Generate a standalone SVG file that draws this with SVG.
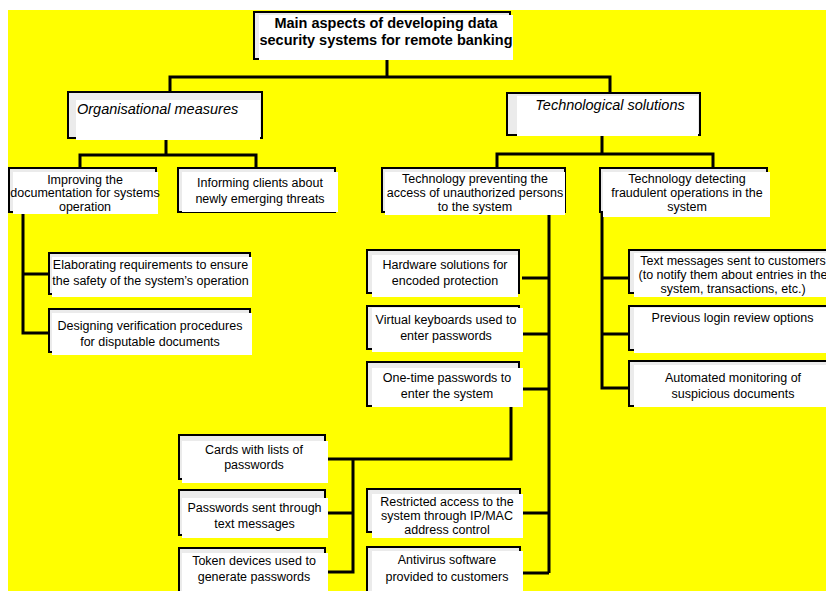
<svg xmlns="http://www.w3.org/2000/svg" width="826" height="591" viewBox="0 0 826 591">
<style>
.o{fill:#ebebeb;stroke:#000;stroke-width:2}
.w{fill:#fff}
.t{font-family:"Liberation Sans",Arial,sans-serif;font-size:12.5px;fill:#000;text-anchor:middle}
.b{font-family:"Liberation Sans",Arial,sans-serif;font-size:14.5px;font-weight:bold;fill:#000;text-anchor:middle}
.i{font-family:"Liberation Sans",Arial,sans-serif;font-size:14.5px;font-style:italic;fill:#000}
.c{fill:none;stroke:#000;stroke-width:3}
</style>
<rect x="0" y="0" width="826" height="591" fill="#fff"/>
<rect x="8" y="10" width="818" height="581" fill="#ffff00"/>
<g id="connectors" class="c">
<path d="M387,59V77M170,92V77H610V93"/>
<path d="M166,138V155M80,168V155H256V168"/>
<path d="M602,135V154M497,168V154H713V168"/>
<path d="M23,212V333H49M23,274H49"/>
<path d="M549,212V573M522,278H549M522,334H549M522,389H549M522,513H549M522,573H549"/>
<path d="M511,407V459H328M353,459V572H328M328,513H353"/>
<path d="M602,212V388H629M602,278H629M602,334H629"/>
</g>
<g id="n-main"><rect class="o" x="254" y="12" width="256" height="47"/><rect class="w" x="259" y="15" width="254" height="45"/>
<text class="b" x="386" y="28">Main aspects of developing data</text><text class="b" x="386" y="44.5">security systems for remote banking</text></g>
<g id="n-org"><rect class="o" x="68" y="92" width="194" height="46"/><rect class="w" x="76" y="100" width="184" height="40"/>
<text class="i" x="77" y="114">Organisational measures</text></g>
<g id="n-tech"><rect class="o" x="507" y="93" width="193" height="42"/><rect class="w" x="517" y="96" width="181" height="40"/>
<text class="i" x="610" y="110" text-anchor="middle">Technological solutions</text></g>
<g id="n-improving"><rect class="o" x="9" y="168" width="147" height="44"/><rect class="w" x="13" y="172" width="145" height="42"/>
<text class="t" x="85" y="183.5">Improving the</text><text class="t" x="85" y="196.5">documentation for systems</text><text class="t" x="85" y="210.5">operation</text></g>
<g id="n-informing"><rect class="o" x="178" y="168" width="157" height="44"/><rect class="w" x="182" y="172" width="156" height="40"/>
<text class="t" x="260" y="186.5">Informing clients about</text><text class="t" x="260" y="202.5">newly emerging threats</text></g>
<g id="n-prevent"><rect class="o" x="382" y="168" width="183" height="44"/><rect class="w" x="385" y="172" width="180" height="43"/>
<text class="t" x="475" y="182.5">Technology preventing the</text><text class="t" x="475" y="196.5">access of unauthorized persons</text><text class="t" x="475" y="210.5">to the system</text></g>
<g id="n-detect"><rect class="o" x="600" y="168" width="167" height="44"/><rect class="w" x="603" y="172" width="167" height="45"/>
<text class="t" x="687" y="182.5">Technology detecting</text><text class="t" x="687" y="196.5">fraudulent operations in the</text><text class="t" x="687" y="210.5">system</text></g>
<g id="n-elaborating"><rect class="o" x="49" y="253" width="201" height="41"/><rect class="w" x="52" y="257" width="200" height="40"/>
<text class="t" x="150.5" y="269">Elaborating requirements to ensure</text><text class="t" x="150.5" y="285">the safety of the system’s operation</text></g>
<g id="n-designing"><rect class="o" x="49" y="309" width="201" height="43"/><rect class="w" x="52" y="313" width="200" height="42"/>
<text class="t" x="150" y="329.5">Designing verification procedures</text><text class="t" x="150" y="346">for disputable documents</text></g>
<g id="n-hardware"><rect class="o" x="367" y="250" width="152" height="43"/><rect class="w" x="372" y="255" width="146" height="42"/>
<text class="t" x="445" y="268.5">Hardware solutions for</text><text class="t" x="445" y="284.5">encoded protection</text></g>
<g id="n-virtual"><rect class="o" x="367" y="306" width="152" height="43"/><rect class="w" x="372" y="308" width="151" height="44"/>
<text class="t" x="446" y="323.5">Virtual keyboards used to</text><text class="t" x="446" y="339.5">enter passwords</text></g>
<g id="n-onetime"><rect class="o" x="367" y="362" width="152" height="44"/><rect class="w" x="372" y="368" width="151" height="39"/>
<text class="t" x="447" y="381.5">One-time passwords to</text><text class="t" x="447" y="398">enter the system</text></g>
<g id="n-textmsg"><rect class="o" x="629" y="250" width="200" height="43"/><rect class="w" x="634" y="253" width="200" height="44"/>
<text class="t" x="733" y="264.5">Text messages sent to customers</text><text class="t" x="733" y="278.5">(to notify them about entries in the</text><text class="t" x="733" y="292.5">system, transactions, etc.)</text></g>
<g id="n-previous"><rect class="o" x="629" y="306" width="200" height="44"/><rect class="w" x="634" y="308" width="200" height="45"/>
<text class="t" x="732.5" y="321.5">Previous login review options</text></g>
<g id="n-automated"><rect class="o" x="629" y="361" width="200" height="45"/><rect class="w" x="634" y="365" width="200" height="42"/>
<text class="t" x="733" y="381.5">Automated monitoring of</text><text class="t" x="733" y="397.5">suspicious documents</text></g>
<g id="n-cards"><rect class="o" x="179" y="435" width="146" height="44"/><rect class="w" x="182" y="441" width="146" height="42"/>
<text class="t" x="254" y="453.5">Cards with lists of</text><text class="t" x="254" y="468.5">passwords</text></g>
<g id="n-sms"><rect class="o" x="179" y="490" width="146" height="45"/><rect class="w" x="182" y="498" width="146" height="40"/>
<text class="t" x="254.5" y="511.5">Passwords sent through</text><text class="t" x="254.5" y="527.5">text messages</text></g>
<g id="n-token"><rect class="o" x="179" y="548" width="146" height="50"/><rect class="w" x="182" y="553" width="146" height="40"/>
<text class="t" x="254" y="564.5">Token devices used to</text><text class="t" x="254" y="580.5">generate passwords</text></g>
<g id="n-restricted"><rect class="o" x="367" y="489" width="153" height="43"/><rect class="w" x="372" y="494" width="151" height="44"/>
<text class="t" x="447" y="505.5">Restricted access to the</text><text class="t" x="447" y="519.5">system through IP/MAC</text><text class="t" x="447" y="533.5">address control</text></g>
<g id="n-antivirus"><rect class="o" x="367" y="547" width="153" height="50"/><rect class="w" x="372" y="551" width="151" height="40"/>
<text class="t" x="447" y="563.5">Antivirus software</text><text class="t" x="447" y="580.5">provided to customers</text></g>
</svg>
